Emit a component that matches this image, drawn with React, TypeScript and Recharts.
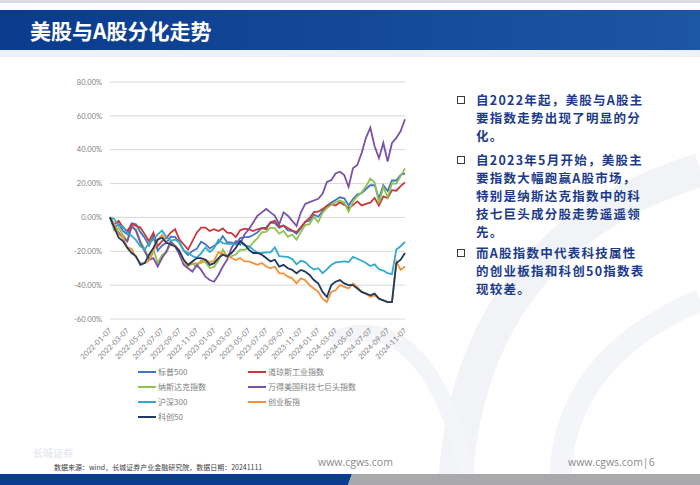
import { CartesianGrid, Line, LineChart, XAxis, YAxis } from "recharts";

// semi-monthly sample dates
const dates = [
  "2022-01-07", "2022-01-22", "2022-02-07", "2022-02-22", "2022-03-07", "2022-03-22", "2022-04-07", "2022-04-22", "2022-05-07", "2022-05-22",
  "2022-06-07", "2022-06-22", "2022-07-07", "2022-07-22", "2022-08-07", "2022-08-22", "2022-09-07", "2022-09-22", "2022-10-07", "2022-10-22",
  "2022-11-07", "2022-11-22", "2022-12-07", "2022-12-22", "2023-01-07", "2023-01-22", "2023-02-07", "2023-02-22", "2023-03-07", "2023-03-22",
  "2023-04-07", "2023-04-22", "2023-05-07", "2023-05-22", "2023-06-07", "2023-06-22", "2023-07-07", "2023-07-22", "2023-08-07", "2023-08-22",
  "2023-09-07", "2023-09-22", "2023-10-07", "2023-10-22", "2023-11-07", "2023-11-22", "2023-12-07", "2023-12-22", "2024-01-07", "2024-01-22",
  "2024-02-07", "2024-02-22", "2024-03-07", "2024-03-22", "2024-04-07", "2024-04-22", "2024-05-07", "2024-05-22", "2024-06-07", "2024-06-22",
  "2024-07-07", "2024-07-22", "2024-08-07", "2024-08-22", "2024-09-07", "2024-09-22", "2024-10-07", "2024-10-22", "2024-11-07",
];

// cumulative change, %
const sp500 = [
  0, -6, -4, -8, -10, -3.5, -4, -8.7, -12, -16.6,
  -11, -19.6, -16.6, -15, -11.4, -11.5, -15, -19.7, -22.2, -19.8,
  -18.6, -14.4, -15.9, -18.3, -16.7, -15, -11, -14.7, -14.8, -15.8,
  -12.2, -11.6, -11.6, -10.4, -8.8, -6.3, -6, -3, -3.4, -6.2,
  -4.8, -7.6, -7.9, -9.7, -6.4, -2.6, -2, 1.6, 0.4, 3.7,
  6.8, 8.8, 10.3, 11.9, 11.3, 7.1, 10.9, 13.5, 14.3, 16.8,
  19, 19, 11.2, 19.1, 15.6, 21.9, 21.8, 25.1, 26,
];
const dow = [
  0, -4, -2, -6, -8, -4, -5, -6, -10, -14,
  -9, -17, -14, -12, -9, -7, -13, -16, -19, -14,
  -9, -6, -6, -8, -7, -8, -6.5, -9, -9.3, -11.6,
  -7.6, -6.7, -7, -8, -7, -6.3, -6.9, -2.8, -2, -5.4,
  -4.8, -6.3, -7.8, -8.6, -5.7, -2.6, -0.3, 3.2, 3.4, 4.9,
  6.8, 7.8, 7.1, 9, 7.4, 5.5, 7.3, 9.5, 7.1, 8,
  8.7, 11.5, 7, 12.4, 11.4, 16.1, 15.8, 18.5, 20.7,
];
const nasdaq = [
  0, -7.8, -6.2, -10.4, -14.1, -5.5, -7, -14, -18.7, -24,
  -18.5, -27, -22.2, -20.8, -15.3, -17.1, -21, -26, -28.7, -27.3,
  -29.3, -25.2, -26.6, -29.9, -29.2, -25.4, -18.9, -23, -22.8, -21.9,
  -19.1, -19.2, -18.1, -14.8, -12.3, -8.7, -8.5, -6, -6.3, -9.6,
  -8, -11.5, -10.1, -13.1, -8.7, -4.5, -4, 0.4, -2.8, 2.8,
  5.5, 7.4, 9, 10, 8.8, 3.4, 9.4, 12.5, 14.7, 18.4,
  22.9, 20.6, 8.4, 18, 11.7, 20.2, 20, 24.4, 29,
];
const mag7 = [
  0, -5, -9, -12, -14, -5, -8, -15, -20, -25,
  -24, -29, -24, -20, -14, -17, -22, -28, -30, -32,
  -28, -31, -35, -37, -38, -34, -29, -25, -18, -14,
  -16, -10, -7, -3, 1, 3, 5, 3, 1, -4,
  3, 1, -2, -5, 3, 8, 9, 10, 11, 14,
  21, 22, 26, 27, 25, 18, 29, 31, 38, 47,
  53, 42, 35, 44, 33, 44, 47, 51, 58,
];
const hs300 = [
  0, -1, -5, -5.3, -9.3, -10.9, -13.4, -17.1, -18.8, -15.3,
  -13.1, -10, -7.8, -11.6, -13.7, -13.1, -14.8, -19.4, -21, -22.8,
  -23.9, -21.2, -17.8, -20.4, -18.2, -13.1, -15.2, -15.6, -15.4, -16,
  -14.8, -16.5, -16.9, -19, -21, -21, -20.6, -20.6, -17.7, -22.9,
  -23.1, -23.3, -24.6, -27.7, -25.6, -26.4, -28.9, -30.8, -30, -32.9,
  -30.6, -28.1, -26.6, -26.2, -26, -26.4, -23.3, -24.4, -25.6, -26.9,
  -28.7, -27.7, -30.6, -31.4, -32.9, -33.5, -19, -17, -14.5,
];
const chinext = [
  0, -4.2, -10, -11.8, -17.7, -18.7, -23.7, -27, -27, -25.5,
  -20.5, -13.4, -10.3, -14.3, -16.5, -16.5, -19.3, -26.1, -28.3, -27.1,
  -27.1, -26.8, -24.9, -26.5, -25.5, -20.5, -21.5, -22.4, -24, -25.2,
  -24, -26, -26, -27, -28, -27, -29, -30, -29, -33,
  -33, -35, -36, -39, -36, -37, -40, -42, -44, -48,
  -50, -44, -43, -40, -41, -42, -39, -41, -44, -45,
  -47, -46, -48, -49, -50, -50, -26, -31, -29,
];
const star50 = [
  0, -6, -12, -14, -18, -21, -23, -28, -27, -22,
  -18, -13, -12, -15, -16, -17, -20, -25, -28, -26,
  -24, -24, -25, -28, -27, -24, -22, -23, -21, -18,
  -14, -16, -19, -21, -21, -22, -24, -26, -25, -29,
  -28, -30, -31, -33, -31, -32, -34, -37, -39, -44,
  -47, -40, -38, -37, -39, -40, -40, -42, -44, -45,
  -46, -45, -48, -49, -50, -50, -27, -25, -21,
];

const yTicks = [-60, -40, -20, 0, 20, 40, 60, 80];

const series = [
  { key: "sp500", name: "标普500", color: "#4472c4", values: sp500 },
  { key: "dow", name: "道琼斯工业指数", color: "#c9383a", values: dow },
  { key: "nasdaq", name: "纳斯达克指数", color: "#8dc44e", values: nasdaq },
  { key: "mag7", name: "万得美国科技七巨头指数", color: "#7a52a8", values: mag7 },
  { key: "hs300", name: "沪深300", color: "#31abc9", values: hs300 },
  { key: "chinext", name: "创业板指", color: "#f3923a", values: chinext },
  { key: "star50", name: "科创50", color: "#1e3a63", values: star50 },
];

const chartData = dates.map((d, i) => {
  const row: Record<string, string | number> = { date: d };
  series.forEach((s) => {
    row[s.key] = s.values[i];
  });
  return row;
});

const paragraphs = [
  ["自2022年起，美股与A股主", "要指数走势出现了明显的分", "化。"],
  ["自2023年5月开始，美股主", "要指数大幅跑赢A股市场，", "特别是纳斯达克指数中的科", "技七巨头成分股走势遥遥领", "先。"],
  ["而A股指数中代表科技属性", "的创业板指和科创50指数表", "现较差。"],
];
const paraTops = [91, 151, 244];

const axisFont = "Lato, 'Open Sans', sans-serif";
const cjk = "'Noto Sans CJK SC', sans-serif";

function DateTick({ x, y, payload }: { x?: number; y?: number; payload?: { value: string } }) {
  return (
    <g transform={`translate(${x},${(y ?? 0) + 2})`}>
      <text x={0} y={0} dy={3} textAnchor="end" transform="rotate(-45)" fill="#7f7f7f" fontSize={7.5} fontFamily={axisFont}>
        {payload?.value}
      </text>
    </g>
  );
}

export default function App() {
  return (
    <div style={{ position: "absolute", left: 0, top: 0, width: 700, height: 485, background: "#fff", overflow: "hidden" }}>
      {/* background swooshes */}
      <svg width={700} height={485} style={{ position: "absolute", left: 0, top: 0 }}>
        <path d="M 700 170 Q 470 240 455 485" fill="none" stroke="#f1f3f7" strokeWidth={34} />
        <path d="M 700 300 Q 560 360 560 485" fill="none" stroke="#f3f5f8" strokeWidth={22} />
        <path d="M 330 340 Q 430 300 470 485" fill="none" stroke="#f4f5f8" strokeWidth={16} />
        <rect x={0} y={0} width={700} height={3} fill="#d9dde3" />
        <defs>
          <linearGradient id="banner" x1="0" y1="0" x2="1" y2="0">
            <stop offset="0%" stopColor="#0a3b8d" />
            <stop offset="100%" stopColor="#1d56a5" />
          </linearGradient>
        </defs>
        <rect x={0} y={10} width={700} height={40} fill="url(#banner)" />
        <rect x={0} y={50} width={700} height={7} fill="#eef1f5" />
        <polygon points="0,474 352,474 348,485 0,485" fill="#0a3d8f" />
        <polygon points="352,474 700,474 700,485 348,485" fill="#a9a9ab" />
      </svg>

      <div style={{ position: "absolute", left: 30, top: 16, color: "#fff", fontFamily: cjk, fontWeight: 700, fontSize: 21, lineHeight: "28px", whiteSpace: "nowrap" }}>
        美股与A股分化走势
      </div>

      <div style={{ position: "absolute", left: 0, top: 60 }}>
        <LineChart width={420} height={310} data={chartData} margin={{ top: 22, right: 15, left: 0, bottom: 0 }}>
          <CartesianGrid vertical={false} stroke="#d9d9d9" />
          <XAxis
            dataKey="date"
            interval={3}
            axisLine={false}
            tickLine={false}
            height={51}
            tick={<DateTick />}
          />
          <YAxis
            type="number"
            domain={[-60, 80]}
            ticks={yTicks}
            width={110}
            axisLine={false}
            tickLine={false}
            tickFormatter={(v: number) => `${v.toFixed(2)}%`}
            tick={{ fill: "#7f7f7f", fontSize: 7.5, fontFamily: axisFont }}
          />
          {series.map((s) => (
            <Line
              key={s.key}
              type="linear"
              dataKey={s.key}
              name={s.name}
              stroke={s.color}
              strokeWidth={1.8}
              dot={false}
              isAnimationActive={false}
            />
          ))}
        </LineChart>
      </div>

      {/* legend */}
      {series.map((s, i) => {
        const col = i % 2;
        const row = Math.floor(i / 2);
        const left = col === 0 ? 138 : 248;
        const top = 372 + row * 15;
        return (
          <div key={s.key} style={{ position: "absolute", left, top: top - 6, height: 12, display: "flex", alignItems: "center", whiteSpace: "nowrap" }}>
            <div style={{ width: 18, height: 2, background: s.color, marginRight: 2 }} />
            <span style={{ fontFamily: cjk, fontSize: 8, lineHeight: "10px", color: "#808080" }}>{s.name}</span>
          </div>
        );
      })}

      {/* commentary */}
      {paragraphs.map((lines, pi) => (
        <div key={pi} style={{ position: "absolute", left: 457, top: paraTops[pi] }}>
          <div style={{ position: "absolute", left: 0, top: 5, width: 6, height: 6, border: "1.5px solid #3a3a3a" }} />
          {lines.map((ln, li) => (
            <div
              key={li}
              style={{
                position: "absolute",
                left: 19,
                top: li * 18,
                fontFamily: cjk,
                fontWeight: 700,
                fontSize: 12.5,
                letterSpacing: 1.25,
                lineHeight: "18px",
                color: "#1c3b8a",
                whiteSpace: "nowrap",
              }}
            >
              {ln}
            </div>
          ))}
        </div>
      ))}

      {/* footer */}
      <div style={{ position: "absolute", left: 33, top: 447, fontFamily: cjk, fontSize: 10, lineHeight: "12px", color: "#e7eaef", fontWeight: 700, whiteSpace: "nowrap" }}>长城证券</div>
      <div style={{ position: "absolute", left: 54, top: 462, fontFamily: cjk, fontSize: 7, color: "#3c3c3c", whiteSpace: "nowrap", lineHeight: "10px" }}>
        数据来源：wind，长城证券产业金融研究院，数据日期：20241111
      </div>
      <div style={{ position: "absolute", left: 318, top: 455, fontFamily: "'Open Sans', sans-serif", fontSize: 10.5, color: "#8c8c8c", whiteSpace: "nowrap" }}>
        www.cgws.com
      </div>
      <div style={{ position: "absolute", left: 568, top: 455, fontFamily: "'Open Sans', sans-serif", fontSize: 10.5, color: "#8c8c8c", whiteSpace: "nowrap" }}>
        www.cgws.com|6
      </div>
    </div>
  );
}
